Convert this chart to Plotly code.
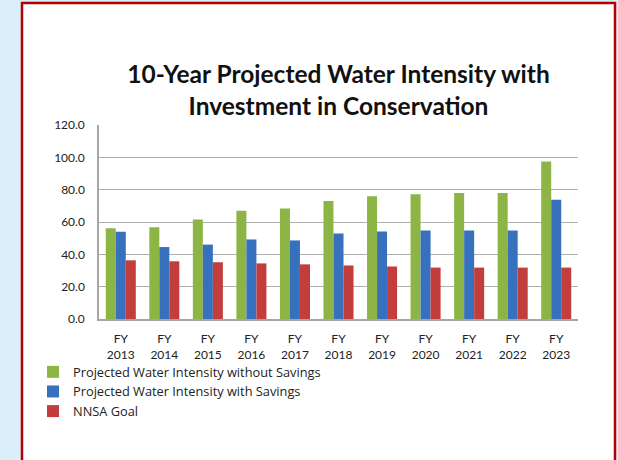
import plotly.graph_objects as go

# ---- data ----
years = ["2013", "2014", "2015", "2016", "2017", "2018", "2019", "2020", "2021", "2022", "2023"]
categories = ["FY<br>" + y for y in years]
without_savings = [56.1, 56.7, 61.6, 67.0, 68.3, 73.0, 75.9, 77.1, 77.9, 77.9, 97.5]
with_savings = [54.0, 44.5, 46.0, 49.2, 48.6, 52.9, 54.1, 54.8, 54.8, 54.8, 73.8]
nnsa_goal = [36.3, 35.7, 35.1, 34.4, 33.8, 33.1, 32.5, 31.8, 31.8, 31.8, 31.8]
series_names = [
    "Projected Water Intensity without Savings",
    "Projected Water Intensity with Savings",
    "NNSA Goal",
]
y_ticks = [0, 20, 40, 60, 80, 100, 120]

# ---- layout geometry ----
W, H = 618, 460
L, R, T, B = 99, 40, 125, 141
pw, ph = W - L - R, H - T - B

def px_x(p):
    return (p - L) / pw

def px_y(p):
    return (H - B - p) / ph

colors = ["#8DB546", "#3771BE", "#C43D3D"]
font_family = "Lato, 'Open Sans', sans-serif"
legend_family = "'Open Sans', Lato, sans-serif"
bg_blue = "#DDEEFB"

fig = go.Figure()
for name, vals, c in zip(series_names, [without_savings, with_savings, nnsa_goal], colors):
    fig.add_trace(go.Bar(x=categories, y=vals, name=name, marker=dict(color=c, line=dict(width=0))))

fig.update_layout(
    width=W, height=H,
    margin=dict(l=L, r=R, t=T, b=B),
    paper_bgcolor=bg_blue,
    plot_bgcolor="white",
    barmode="group",
    bargap=0.31,
    bargroupgap=0,
    font=dict(family=font_family, size=12, color="#222222"),
    title=dict(
        text="10-Year Projected Water Intensity with<br>Investment in Conservation",
        font=dict(family=font_family, size=24.5, color="#111111", weight="bold"),
        x=0.5, xref="paper", xanchor="center",
        y=(H - 83) / H, yref="container", yanchor="middle",
    ),
    legend=dict(
        orientation="v",
        x=px_x(33), xanchor="left",
        y=px_y(357), yanchor="top",
        bgcolor="rgba(0,0,0,0)",
        font=dict(family=legend_family, size=12.8, color="#222222"),
        tracegroupgap=0,
        traceorder="normal",
    ),
    shapes=[
        dict(
            type="rect", xref="paper", yref="paper", layer="below",
            x0=px_x(22), x1=px_x(615), y0=px_y(475), y1=px_y(3),
            fillcolor="white", line=dict(color="#B00000", width=2.5),
        )
    ],
)

fig.update_xaxes(
    showgrid=False,
    showline=True, linecolor="#A6A6A6", linewidth=1.5,
    ticks="outside", ticklen=8, tickcolor="rgba(0,0,0,0)",
    tickfont=dict(family=font_family, size=12, color="#222222"),
)
fig.update_yaxes(
    range=[0, 120],
    tickvals=y_ticks,
    tickformat=".1f",
    showgrid=True, gridcolor="#B0B0B0", gridwidth=1,
    showline=True, linecolor="#A6A6A6", linewidth=1.5,
    zeroline=False,
    ticks="outside", ticklen=10, tickcolor="rgba(0,0,0,0)",
    tickfont=dict(family=font_family, size=12, color="#222222"),
)

fig.write_html(
    "out.html",
    config={"displayModeBar": False},
    post_script="document.body.style.margin='0';document.body.style.overflow='hidden';"
                "document.body.style.background='" + bg_blue + "';",
)
